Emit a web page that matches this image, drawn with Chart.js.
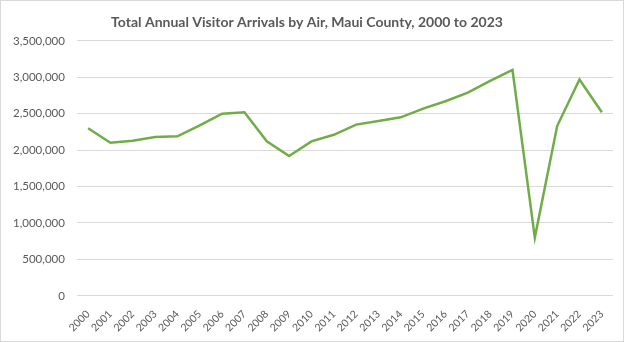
<!DOCTYPE html>
<html>
<head>
<meta charset="utf-8">
<script src="https://cdn.jsdelivr.net/npm/chart.js@4.4.1/dist/chart.umd.min.js"></script>
<style>
    html, body { margin: 0; padding: 0; background: #fff; }
    .wrap {
        position: relative;
        width: 622px;
        height: 340px;
        border: 1px solid #d9d9d9;
    }
</style>
</head>
<body>
<div class="wrap"><canvas id="visitorChart"></canvas></div>
<script>
const years = ['2000', '2001', '2002', '2003', '2004', '2005', '2006', '2007', '2008', '2009', '2010', '2011',
    '2012', '2013', '2014', '2015', '2016', '2017', '2018', '2019', '2020', '2021', '2022', '2023'];
const arrivals = [2300000, 2100000, 2130000, 2180000, 2190000, 2340000, 2500000, 2520000, 2120000, 1920000,
    2120000, 2210000, 2350000, 2400000, 2450000, 2570000, 2670000, 2790000, 2950000, 3100000,
    800000, 2330000, 2970000, 2520000];
const chartTitle = 'Total Annual Visitor Arrivals by Air, Maui County, 2000 to 2023';

const textColor = '#595959';
const fontFamily = 'Lato, "Open Sans", sans-serif';

function renderArrivalsChart(canvasId) {
    const ctx = document.getElementById(canvasId);
    if (!ctx) return;

    ctx.chart = new Chart(ctx, {
        type: 'line',
        data: {
            labels: years,
            datasets: [{
                label: 'Visitor arrivals',
                data: arrivals,
                borderColor: '#70ad47',
                borderWidth: 2.5,
                pointRadius: 0,
                tension: 0,
                fill: false
            }]
        },
        options: {
            responsive: true,
            maintainAspectRatio: false,
            animation: false,
            layout: {
                padding: { left: 0, right: 10, top: 5, bottom: 3 }
            },
            plugins: {
                legend: { display: false },
                tooltip: { enabled: false },
                title: {
                    display: true,
                    text: chartTitle,
                    color: textColor,
                    font: { family: fontFamily, size: 14, weight: 'bold' },
                    padding: { top: 8, bottom: 10 }
                }
            },
            scales: {
                y: {
                    min: 0,
                    max: 3500000,
                    border: { display: false },
                    grid: {
                        color: '#d9d9d9',
                        drawTicks: false
                    },
                    ticks: {
                        stepSize: 500000,
                        padding: 12,
                        color: textColor,
                        font: { family: fontFamily, size: 11.5 },
                        callback: v => v.toLocaleString('en-US')
                    }
                },
                x: {
                    offset: true,
                    border: { display: false },
                    grid: { display: false },
                    ticks: {
                        minRotation: 45,
                        maxRotation: 45,
                        autoSkip: false,
                        padding: 4,
                        color: textColor,
                        font: { family: fontFamily, size: 10.5 }
                    }
                }
            }
        }
    });
}

renderArrivalsChart('visitorChart');
</script>
</body>
</html>
